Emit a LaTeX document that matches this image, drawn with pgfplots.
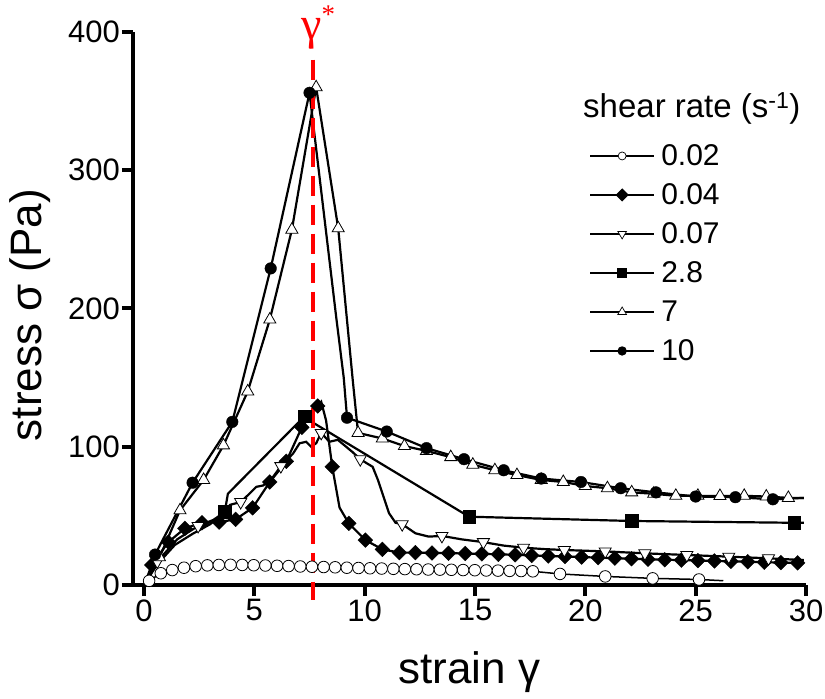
\documentclass[border=0pt]{standalone}
\usepackage{fontspec}
\setmainfont{Liberation Sans}
\newfontfamily\serif{Liberation Serif}
\usepackage{pgfplots}
\pgfplotsset{compat=1.18}
\begin{document}
\begin{tikzpicture}
\path[use as bounding box] (0,0) rectangle (825pt,699pt);
\begin{axis}[
  at={(133pt,114pt)}, anchor=south west,
  scale only axis, width=673pt, height=553pt,
  xmin=-0.5, xmax=30, ymin=0, ymax=400,
  axis lines=left,
  axis line style={-, line width=4.8pt},
  xtick={0,5,...,30}, ytick={0,100,...,400},
  tick align=outside, major tick length=11pt,
  tick style={line width=4pt, black},
  minor tick num=0,
  /pgf/number format/assume math mode=true,
  tick label style={font=\fontsize{31}{31}\selectfont},
  yticklabel style={inner sep=2pt},
  label style={font=\fontsize{44}{44}\selectfont},
  xlabel={strain γ}, ylabel={stress σ (Pa)},
  xlabel style={at={(axis description cs:0.5,-0.157)}, anchor=center},
  ylabel style={at={(axis description cs:-0.153,0.488)}, anchor=center},
  clip=false,
  legend style={at={(axis description cs:0.678,0.797)}, anchor=north west,
    draw=none, fill=none, inner sep=0pt,
    font=\fontsize{30}{30}\selectfont, row sep=16pt,
    nodes={inner sep=1.5pt, text height=20pt, text depth=0pt},
    /tikz/every odd column/.append style={column sep=5pt}},
  legend cell align=left,
  legend image code/.code={\draw[mark repeat=2,mark phase=2,#1] plot coordinates {(0pt,0pt) (32pt,0pt) (64pt,0pt)};},
]
\addlegendimage{black, line width=1.3pt, mark=*, mark size=4pt, mark options={fill=white, line width=0.7pt}}
\addlegendimage{black, line width=1.3pt, mark=square*, mark size=4pt, mark options={fill=black, rotate=45}}
\addlegendimage{black, line width=1.3pt, mark=triangle*, mark size=5pt, mark options={fill=white, rotate=180, line width=0.7pt}}
\addlegendimage{black, line width=1.3pt, mark=square*, mark size=4.2pt, mark options={fill=black}}
\addlegendimage{black, line width=1.3pt, mark=triangle*, mark size=5pt, mark options={fill=white, line width=0.7pt}}
\addlegendimage{black, line width=1.3pt, mark=*, mark size=4pt, mark options={fill=black}}
\legend{0.02,0.04,0.07,2.8,7,10}

% ---- 0.02 (open circles)
\addplot[forget plot, black, line width=1.5pt, no markers] coordinates {
(0.23,3) (0.76,8.5) (1.28,10.8) (1.81,12.5) (2.34,13.6) (2.87,14.2) (3.39,14.5) (3.92,14.6) (4.45,14.5) (4.97,14.3) (5.5,14.1) (6.03,13.9) (6.55,13.7) (7.08,13.4) (7.61,13.2) (8.14,13) (8.66,12.8) (9.19,12.5) (9.72,12.3) (10.24,12.1) (10.77,11.9) (11.3,11.7) (11.82,11.5) (12.35,11.4) (12.88,11.2) (13.41,11.1) (13.93,11) (14.46,10.8) (14.99,10.7) (15.51,10.5) (16.04,10.4) (16.57,10.2) (17.09,10.1) (17.62,9.9) (18.85,8) (20.9,6.2) (23.05,4.8) (25.15,4) (26.25,3.1)};
% ---- 0.04 (filled diamonds)
\addplot[forget plot, black, line width=2.2pt, no markers] coordinates {
(0.15,6) (0.35,14.5) (1.1,31) (1.85,41) (2.63,45) (3.4,45.5) (4.15,47.5) (4.92,55.8) (5.7,74.5) (6.45,89.5) (7.15,114) (7.87,129.5) (8.03,132.5) (8.25,119) (8.53,85.5) (8.86,56) (9.28,44.6) (10.03,32.5) (10.8,25.8) (11.57,23.4) (12.3,23.4) (13.05,23.2) (13.8,23) (14.56,22.8) (15.31,22.5) (16.06,22.2) (16.82,21.8) (17.57,21.4) (18.32,21) (19.08,20.6) (19.83,20.2) (20.58,19.8) (21.34,19.4) (22.09,19) (22.84,18.6) (23.6,18.3) (24.35,18) (25.1,17.7) (25.85,17.4) (26.6,17.1) (27.36,16.8) (28.11,16.5) (28.86,16.2) (29.62,16) (29.9,16)};
% ---- 0.07 (open down triangles)
\addplot[forget plot, black, line width=2.2pt, no markers] coordinates {
(0.25,8) (0.6,17) (1.5,33) (2.45,42.7) (3.13,47) (3.6,52) (3.9,58) (4.38,60) (4.71,65) (5.09,71) (5.4,72) (5.84,78) (6.2,86) (6.75,95) (7.05,102.5) (7.35,103.6) (7.57,100) (7.8,102.5) (8.03,110) (8.4,103.6) (8.78,105) (9.16,100) (9.46,96) (9.8,91) (10.1,88) (10.36,85.5) (10.6,76) (11.1,52) (11.4,45) (11.7,44) (12.3,37.4) (12.9,35) (13.5,35.5) (14.4,33) (15.38,31) (16.3,28.5) (17.2,27) (18.1,26) (19.05,25.3) (20.9,24.3) (22.7,22.9) (24.6,21.7) (26.5,20.5) (28.3,19.3) (29.9,18)};
% ---- 2.8 (filled squares)
\addplot[forget plot, black, line width=2.2pt, no markers] coordinates {
(0.2,5) (0.6,15) (1.4,29) (2.2,37) (3.0,44) (3.66,53) (3.8,66) (7.27,122) (7.6,118) (14.73,49.4) (22.1,46.3) (29.46,45) (29.9,45)};
% ---- 7 (open up triangles)
\addplot[forget plot, black, line width=2.2pt, no markers] coordinates {
(0.2,5) (0.7,20) (1.63,54) (2.7,76) (3.6,101) (4.7,140) (5.7,192) (6.7,257) (7.8,360) (8.8,258) (9.46,148) (9.7,110) (10.8,106) (11.8,100.5) (12.8,97) (13.9,92.5) (14.9,87) (15.9,83) (16.9,79.5) (18.0,76) (19.0,74.5) (20.0,71.6) (21.0,70) (22.1,67) (23.1,66) (24.1,64.5) (25.1,64.5) (26.1,64.4) (27.2,64.5) (28.2,64) (29.2,63) (29.9,63)};
% ---- 10 (filled circles)
\addplot[forget plot, black, line width=2.2pt, no markers] coordinates {
(0.2,5) (0.5,22) (2.2,74) (4.0,118) (5.74,229) (7.5,356) (8.7,195) (9.05,150) (9.2,121) (11.0,111) (12.8,99) (14.5,91) (16.3,83) (18.0,77) (19.8,74.5) (21.6,70) (23.2,67) (25.0,64) (26.8,63.5) (28.5,62) (29.9,63)};

% ---- markers
\addplot[forget plot, only marks, mark=*, mark size=5.8pt, mark options={fill=white, draw=black, line width=0.8pt}] coordinates {
(0.23,3) (0.76,8.5) (1.28,10.8) (1.81,12.5) (2.34,13.6) (2.87,14.2) (3.39,14.5) (3.92,14.6) (4.45,14.5) (4.97,14.3) (5.5,14.1) (6.03,13.9) (6.55,13.7) (7.08,13.4) (7.61,13.2) (8.14,13) (8.66,12.8) (9.19,12.5) (9.72,12.3) (10.24,12.1) (10.77,11.9) (11.3,11.7) (11.82,11.5) (12.35,11.4) (12.88,11.2) (13.41,11.1) (13.93,11) (14.46,10.8) (14.99,10.7) (15.51,10.5) (16.04,10.4) (16.57,10.2) (17.09,10.1) (17.62,9.9) (18.85,8) (20.9,6.2) (23.05,4.8) (25.15,4)};
\addplot[forget plot, only marks, mark=square*, mark size=5.2pt, mark options={fill=black, draw=black, rotate=45}] coordinates {
(0.35,14.5) (1.1,31) (1.85,41) (2.63,45) (3.4,45.5) (4.15,47.5) (4.92,55.8) (5.7,74.5) (6.45,89.5) (7.15,114) (7.87,129.5) (8.53,85.5) (9.28,44.6) (10.03,32.5) (10.8,25.8) (11.57,23.4) (12.3,23.4) (13.05,23.2) (13.8,23) (14.56,22.8) (15.31,22.5) (16.06,22.2) (16.82,21.8) (17.57,21.4) (18.32,21) (19.08,20.6) (19.83,20.2) (20.58,19.8) (21.34,19.4) (22.09,19) (22.84,18.6) (23.6,18.3) (24.35,18) (25.1,17.7) (25.85,17.4) (26.6,17.1) (27.36,16.8) (28.11,16.5) (28.86,16.2) (29.62,16)};
\addplot[forget plot, only marks, mark=triangle*, mark size=7pt, mark options={fill=white, draw=black, rotate=180, line width=0.8pt}] coordinates {
(0.6,17) (2.45,42.7) (4.38,60) (6.2,86) (8.03,110) (9.8,91) (11.7,44) (13.5,35.5) (15.38,31) (17.2,27) (19.05,25.3) (20.9,24.3) (22.7,22.9) (24.6,21.7) (26.5,20.5) (28.3,19.3)};
\addplot[forget plot, only marks, mark=square*, mark size=6.3pt, mark options={fill=black, draw=black}] coordinates {
(3.66,53) (7.27,122) (14.73,49.4) (22.1,46.3) (29.46,45)};
\addplot[forget plot, only marks, mark=triangle*, mark size=7pt, mark options={fill=white, draw=black, line width=0.8pt}] coordinates {
(0.7,20) (1.63,54) (2.7,76) (3.6,101) (4.7,140) (5.7,192) (6.7,257) (7.8,360) (8.8,258) (9.7,110) (10.8,106) (11.8,100.5) (12.8,97) (13.9,92.5) (14.9,87) (15.9,83) (16.9,79.5) (18.0,76) (19.0,74.5) (20.0,71.6) (21.0,70) (22.1,67) (23.1,66) (24.1,64.5) (25.1,64.5) (26.1,64.4) (27.2,64.5) (28.2,64) (29.2,63)};
\addplot[forget plot, only marks, mark=*, mark size=5.8pt, mark options={fill=black, draw=black}] coordinates {
(0.5,22) (2.2,74) (4.0,118) (5.74,229) (7.5,356) (9.2,121) (11.0,111) (12.8,99) (14.5,91) (16.3,83) (18.0,77) (19.8,74.5) (21.6,70) (23.2,67) (25.0,64) (26.8,63.5) (28.5,62)};

% ---- gamma* line
\addplot[forget plot, red, line width=4pt, dash pattern=on 20pt off 9pt, no markers] coordinates {(7.68,380) (7.68,-11)};
\end{axis}
\node[anchor=west, inner sep=0pt, font=\fontsize{33}{33}\selectfont] at (583pt,591pt) {shear rate (s\textsuperscript{-1})};
\node[red, anchor=base west, inner sep=0pt] at (301pt,659pt) {\serif\fontsize{46}{46}\selectfont γ\raisebox{16pt}{\fontsize{27}{27}\selectfont *}};
\end{tikzpicture}
\end{document}
